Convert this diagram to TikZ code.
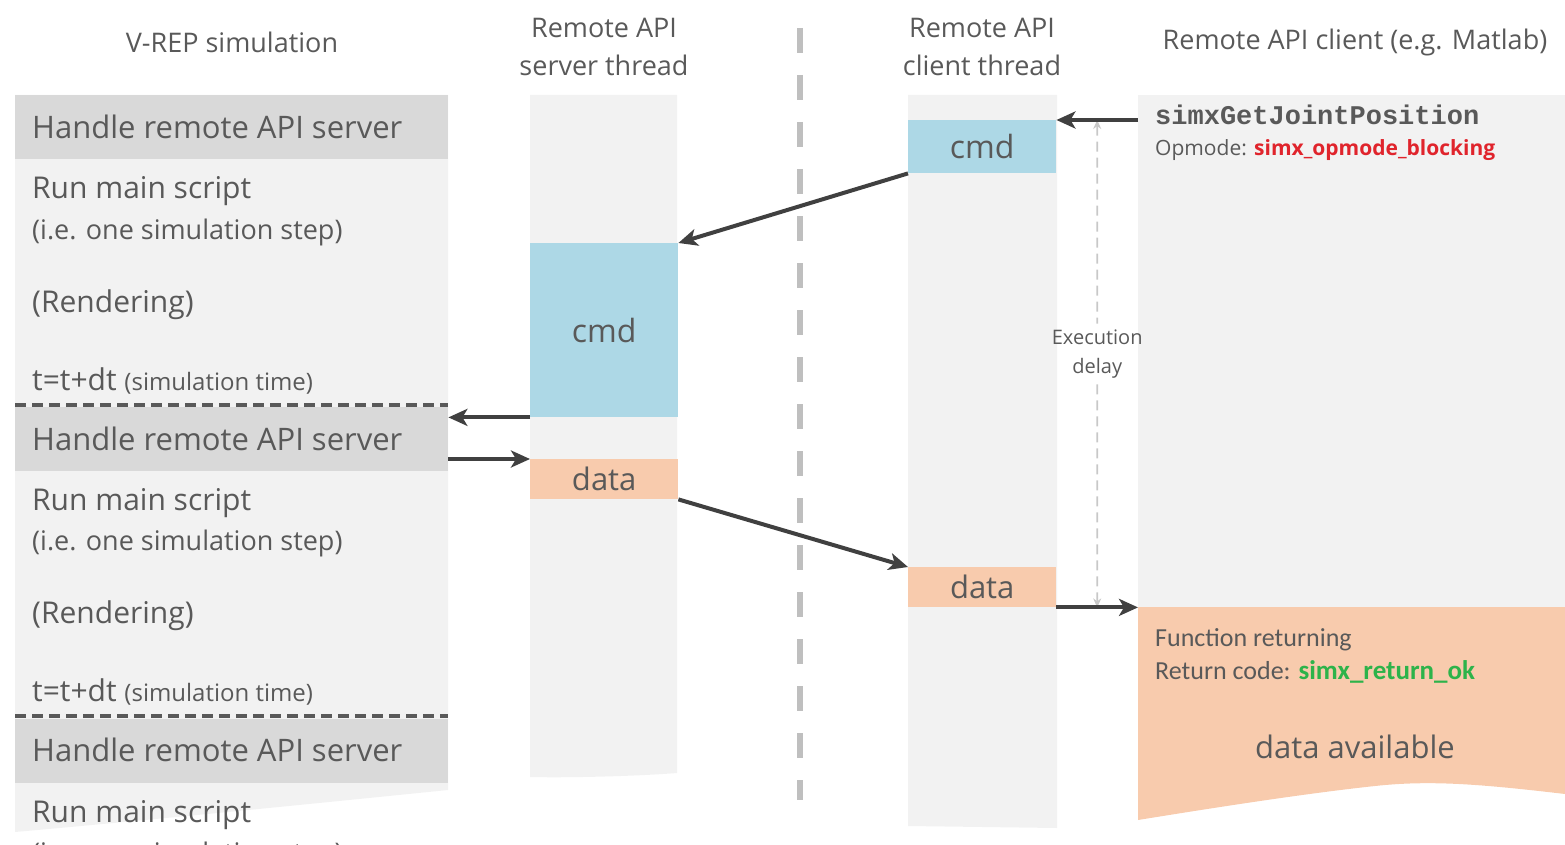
\documentclass[tikz,border=0pt]{standalone}
\usepackage{fontspec}
\setmainfont{Open Sans}
\setmonofont{Liberation Mono}
\newfontfamily\calfont{Carlito}
\usetikzlibrary{arrows.meta,calc}
\definecolor{txt}{HTML}{595959}
\definecolor{colbg}{HTML}{F2F2F2}
\definecolor{bandc}{HTML}{D9D9D9}
\definecolor{cmdblue}{HTML}{ADD8E6}
\definecolor{peach}{HTML}{F8CBAD}
\definecolor{arr}{HTML}{404040}
\definecolor{redt}{HTML}{E0242C}
\definecolor{greent}{HTML}{2DB34A}
\definecolor{divc}{HTML}{BFBFBF}
\definecolor{delc}{HTML}{C8C8C8}
\begin{document}
\begin{tikzpicture}[x=1pt,y=-1pt,
  every node/.style={text=txt, inner sep=0pt},
  fs/.style={font=\fontsize{#1}{#1}\selectfont},
  hdr/.style={align=center, font=\fontsize{27}{38}\selectfont},
  lt/.style={anchor=base west},
  bandbox/.style={anchor=north west, fill=bandc, minimum width=433pt, minimum height=64pt},
  msgbox/.style={anchor=north west, minimum width=148pt},
  sepline/.style={draw=txt, line width=3.5pt, dash pattern=on 11pt off 6pt},
  divider/.style={draw=divc, line width=6pt, dash pattern=on 25pt off 22pt},
  conn/.style={draw=arr, line width=4pt, -{Stealth[length=19pt,width=17pt,inset=5pt]}},
  delayline/.style={draw=delc, line width=1.8pt, dash pattern=on 10pt off 6pt}
]
\useasboundingbox (0,0) rectangle (1565,845);
\clip (0,0) rectangle (1565,845);

% columns
\fill[colbg] (15,95) -- (448,95) -- (448,790) .. controls (300,805) and (150,820) .. (15,832) -- cycle;
\fill[colbg] (530,95) -- (677,95) -- (677,773) .. controls (640,776) and (570,778) .. (530,777) -- cycle;
\fill[colbg] (908,95) -- (1057,95) -- (1057,828) -- (908,826) -- cycle;
\node[anchor=north west, fill=colbg, minimum width=427pt, minimum height=512pt] (mgray) at (1138,95) {};
\fill[peach] (1138,607) -- (1565,607) -- (1565,794) .. controls (1480,784) and (1430,780) .. (1375,786) .. controls (1300,794) and (1200,810) .. (1138,820) -- cycle;

% bands
\node[bandbox] (hr1) at (15,95) {};
\node[bandbox] (hr2) at (15,407) {};
\node[bandbox] (hr3) at (15,719) {};

% message boxes
\node[msgbox, fill=cmdblue, minimum height=174pt, fs=32] (scmd) at (530,243) {cmd};
\node[msgbox, fill=peach, minimum height=40pt, fs=31] (sdata) at (530,459) {data};
\node[msgbox, fill=cmdblue, minimum height=53pt, fs=32] (ccmd) at (908,120) {cmd};
\node[msgbox, fill=peach, minimum height=40pt, fs=31] (cdata) at (908,567) {data};

% separators
\draw[sepline] (15,405) -- (448,405);
\draw[sepline] (15,716) -- (448,716);
\coordinate (divtop) at (800,28);
\coordinate (divbot) at (800,800);
\draw[divider] (divtop) -- (divbot);

% headers
\node[hdr] (h1) at (232,42) {V-REP simulation};
\node[hdr] (h2) at (604,47) {Remote API\\server thread};
\node[hdr] (h3) at (982,47) {Remote API\\client thread};
\node[hdr] (h4) at (1355,42) {Remote API client (e.g. Matlab)};

% left texts
\foreach \o/\n in {0/a,311/b}{
  \node[lt, fs=31] (hand\n) at (32,139+\o) {Handle remote API server};
  \node[lt, fs=30] (run\n) at (32,199+\o) {Run main script};
  \node[lt, fs=27] (ie\n) at (32,239+\o) {(i.e. one simulation step)};
  \node[lt, fs=30] (rend\n) at (32,312+\o) {(Rendering)};
  \node[lt, fs=30] (tdt\n) at (32,390+\o) {t=t+dt {\fontsize{24}{24}\selectfont(simulation time)}};
}
\node[lt, fs=31] (handc) at (32,761) {Handle remote API server};
\node[lt, fs=30] (runc) at (32,822) {Run main script};
\node[lt, fs=27] (iec) at (32,862) {(i.e. one simulation step)};

% right texts
\node[lt, font=\ttfamily\bfseries\fontsize{27}{27}\selectfont] (fn) at (1155,125) {simxGetJointPosition};
\node[lt, fs=21] (opm) at (1155,156) {Opmode: \textcolor{redt}{\bfseries simx\_opmode\_blocking}};
\node[lt, font=\calfont\fontsize{26}{26}\selectfont] (fret) at (1155,646) {Function returning};
\node[lt, font=\calfont\fontsize{26}{26}\selectfont] (rcode) at (1155,679) {Return code: \textcolor{greent}{\bfseries\fontsize{27}{27}\selectfont simx\_return\_ok}};
\node[fs=31] (avail) at (1355,747) {data available};

% execution delay
\coordinate (edtop) at ($(ccmd.north east)!0.5!(ccmd.north east -| mgray.west)$);
\coordinate (edbot) at ($(cdata.south east)!0.5!(cdata.south east -| mgray.west)$);
\node[align=center, font=\fontsize{20}{29}\selectfont, inner sep=6pt] (ed) at ($(edtop)!0.48!(edbot)$) {Execution\\delay};
\draw[delayline, {Stealth[length=9pt,width=8pt]}-] (edtop) -- (ed.north);
\draw[delayline, -{Stealth[length=9pt,width=8pt]}] (ed.south) -- (edbot);

% connectors
\draw[conn] (mgray.west |- ccmd.north east) -- (ccmd.north east);
\draw[conn] (ccmd.south west) -- (scmd.north east);
\draw[conn] (scmd.south west) -- (scmd.south west -| hr2.east);
\draw[conn] (sdata.north west -| hr2.east) -- (sdata.north west);
\draw[conn] (sdata.south east) -- (cdata.north west);
\draw[conn] (cdata.south east) -- (mgray.south west);
\end{tikzpicture}
\end{document}
